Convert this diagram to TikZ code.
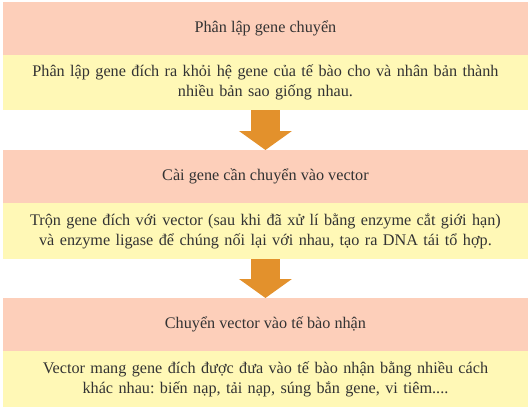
\documentclass[tikz,border=0pt]{standalone}
\usepackage{fontspec}
\setmainfont{Liberation Serif}
\usetikzlibrary{arrows.meta}
\definecolor{pinkc}{HTML}{FDCFBA}
\definecolor{yelc}{HTML}{FFF8B6}
\definecolor{orc}{HTML}{E3912C}
\definecolor{txtc}{HTML}{333333}
\frenchspacing
\begin{document}
\begin{tikzpicture}[x=1pt,y=-1pt,
  hdr/.style={fill=pinkc, minimum width=525.5pt, minimum height=53pt, inner sep=0pt, text=txtc, font=\fontsize{16.2}{20}\selectfont},
  body/.style={fill=yelc, text width=525.5pt, inner sep=0pt, align=center, text=txtc, font=\fontsize{16.2}{20}\selectfont},
  conn/.style={orc, line width=29pt, -{Triangle[length=19pt,width=52pt]}}]
\useasboundingbox (0,0) rectangle (530,407);
\node[hdr, anchor=north west] (h1) at (2.5,2) {Phân lập gene chuyển};
\node[body, minimum height=55pt, anchor=north west] (b1) at (2.5,55) {Phân lập gene đích ra khỏi hệ gene của tế bào cho và nhân bản thành\\nhiều bản sao giống nhau.};
\node[hdr, anchor=north west] (h2) at (2.5,150) {Cài gene cần chuyển vào vector};
\node[body, minimum height=56pt, anchor=north west] (b2) at (2.5,203) {Trộn gene đích với vector (sau khi đã xử lí bằng enzyme cắt giới hạn)\\và enzyme ligase để chúng nối lại với nhau, tạo ra DNA tái tổ hợp.};
\node[hdr, anchor=north west] (h3) at (2.5,298) {Chuyển vector vào tế bào nhận};
\node[body, minimum height=56pt, anchor=north west] (b3) at (2.5,351) {Vector mang gene đích được đưa vào tế bào nhận bằng nhiều cách\\khác nhau: biến nạp, tải nạp, súng bắn gene, vi tiêm....};
\draw[conn] (b1.south) -- (h2.north);
\draw[conn] (b2.south) -- (h3.north);
\end{tikzpicture}
\end{document}
